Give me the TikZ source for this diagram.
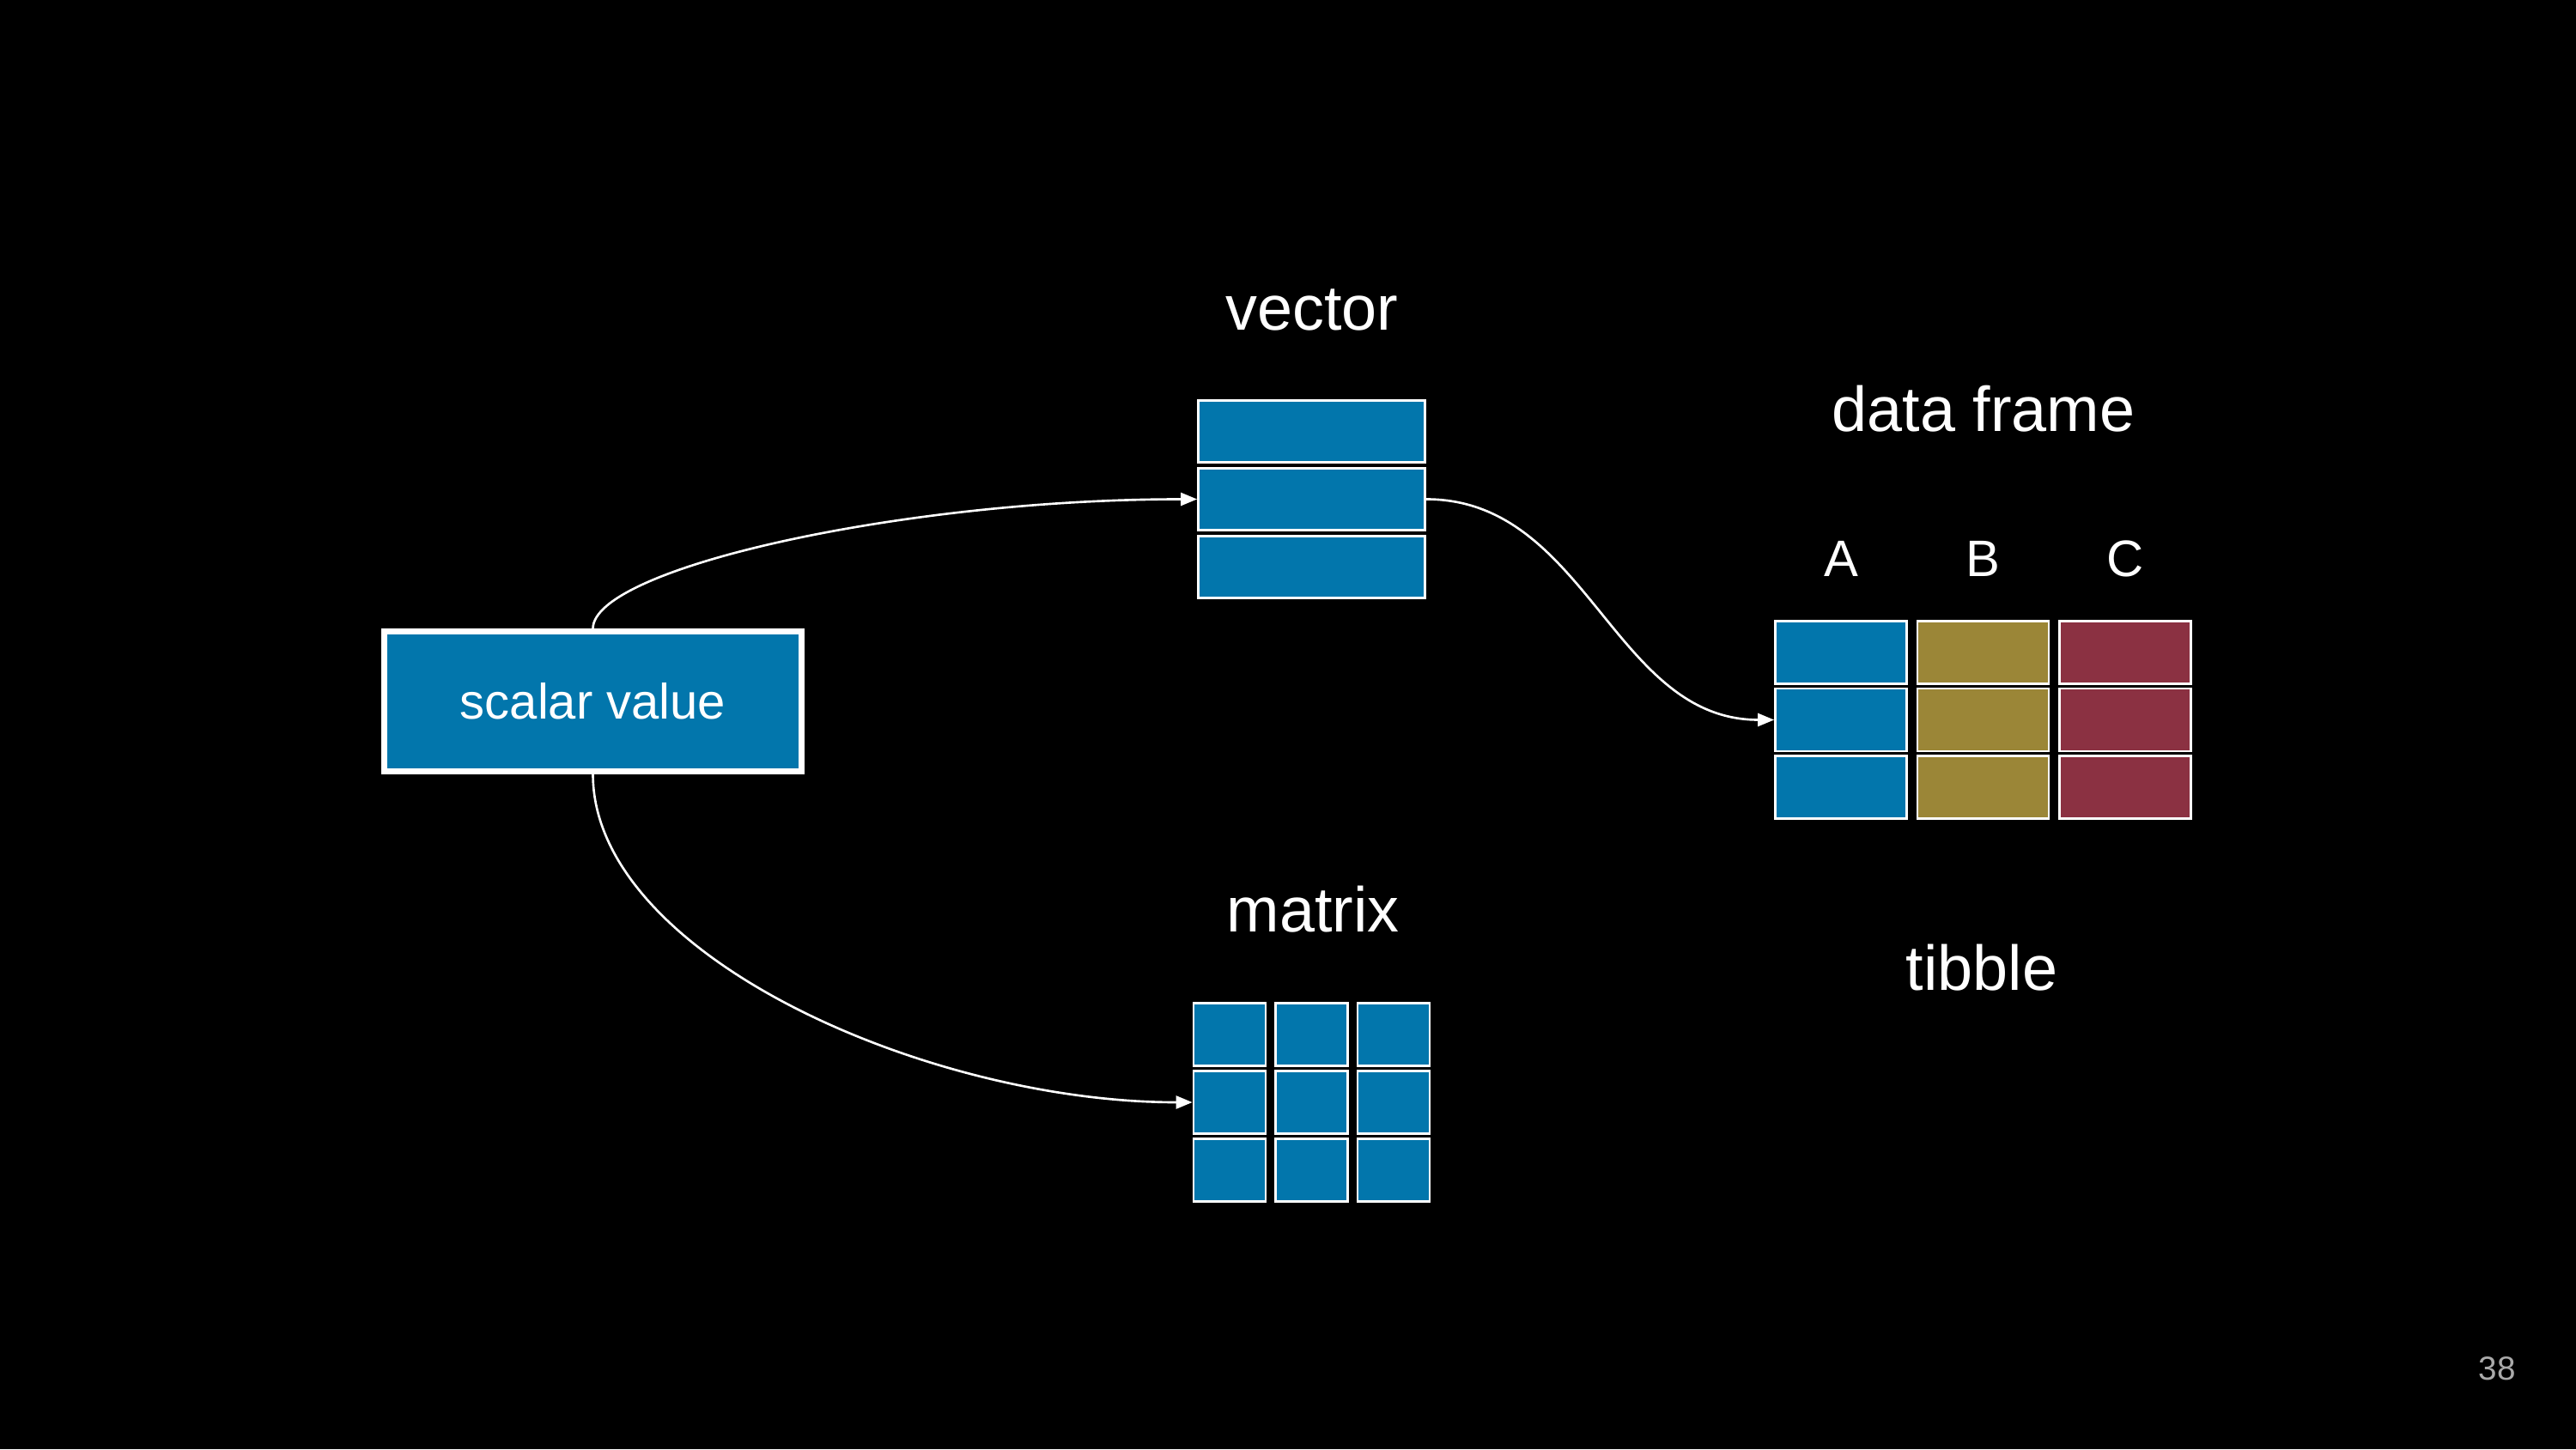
\documentclass[tikz,border=0pt]{standalone}
\usepackage{fontspec}
\setmainfont{Liberation Sans}
\usetikzlibrary{arrows.meta}

\definecolor{cellblue}{RGB}{2,118,172}
\definecolor{cellolive}{RGB}{155,134,55}
\definecolor{cellred}{RGB}{139,49,66}
\definecolor{pagegray}{RGB}{170,170,170}

\begin{document}
\begin{tikzpicture}[
			font=\fontsize{21pt}{25pt}\selectfont,
			>={Triangle[length=1.9mm,width=1.5mm]},
			cell/.style={rectangle,draw=white,line width=0.8pt,fill=cellblue,inner sep=0pt},
			vcell/.style={cell,minimum width=26.4mm,minimum height=7.2mm},
			mcell/.style={cell,minimum width=8.4mm,minimum height=7.3mm},
			dcell/.style={cell,minimum width=15.3mm,minimum height=7.3mm},
			title/.style={anchor=base,text=white},
			head/.style={anchor=base,text=white,font=\fontsize{17pt}{20pt}\selectfont},
			link/.style={->,draw=white,line width=0.75pt},
			]
			
			% Background
			\fill[black] (0,0) rectangle (30,16.88);
			
			% Scalar value
			\node[cell,line width=1.85pt,minimum width=48.6mm,minimum height=16.3mm,
				text=white,font=\fontsize{16.5pt}{20pt}\selectfont]
			(scalar) at (6.905,8.71) {scalar value};
			
			% Vector
			\foreach \i/\y in {1/11.855,2/11.065,3/10.275}
				\node[vcell] (v\i) at (15.275,\y) {};
			\node[title] (tvec) at (15.28,13.03) {vector};
			
			% Matrix
			\foreach \r in {1,2,3}
				\foreach \c in {1,2,3}
					\node[mcell] (m\r\c) at ({15.275+(\c-2)*0.955},{4.04-(\r-2)*0.79}) {};
			\node[title] (tmat) at (15.29,6.03) {matrix};
			
			% Data frame
			\foreach \c/\colr/\x in {a/cellblue/21.44,b/cellolive/23.095,c/cellred/24.75}
				\foreach \r/\y in {1/9.28,2/8.495,3/7.71}
					\node[dcell,fill=\colr] (\c\r) at (\x,\y) {};
			\node[head] (ha) at (21.44,10.16) {A};
			\node[head] (hb) at (23.095,10.16) {B};
			\node[head] (hc) at (24.75,10.16) {C};
			\node[title] (tdf) at (23.10,11.85) {data frame};
			\node[title] (ttib) at (23.08,5.35) {tibble};
			
			% Connections
			\draw[link] (scalar.north) .. controls +(0,0.70) and +(-3.44,0) .. (v2.west);
			\draw[link] (v2.east) to[out=0,in=180] (a2.west);
			\draw[link] (scalar.south) .. controls +(0,-2.11) and +(-3.08,0) .. (m21.west);
			
			% Page number
			\node[anchor=base,text=pagegray,font=\fontsize{11pt}{13pt}\selectfont]
			(page) at (29.08,0.81) {38};
			
		\end{tikzpicture}
\end{document}
